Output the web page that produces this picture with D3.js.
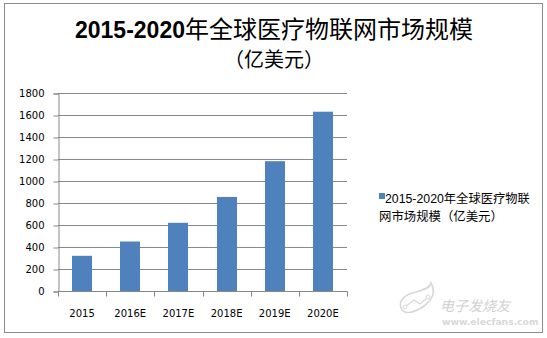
<!DOCTYPE html>
<html>
<head>
<meta charset="utf-8">
<script src="https://cdn.jsdelivr.net/npm/d3@7/dist/d3.min.js"></script>
<style>
  html, body { margin: 0; padding: 0; background: #fff; }
  svg { display: block; }
</style>
</head>
<body>
<svg id="chart" width="547" height="338"></svg>
<script>
// Global medical IoT market size, 2015-2020 (100 million USD)
const categories = ["2015", "2016E", "2017E", "2018E", "2019E", "2020E"];
const marketSize = [320, 450, 620, 855, 1180, 1630];
const yTicks = [0, 200, 400, 600, 800, 1000, 1200, 1400, 1600, 1800];
const titleYears = "2015-2020";
const titleRest = "年全球医疗物联网市场规模";
const titleUnit = "（亿美元）";
const legendYears = "2015-2020";
const legendRest = "年全球医疗物联";
const legendLine2 = "网市场规模（亿美元）";

const svg = d3.select("#chart");
const barColor = "#4F81BD";
const gridColor = "#878787";
const cjk = "'Noto Sans CJK SC', 'DejaVu Sans', sans-serif";
const latin = "'Liberation Sans', Arial, sans-serif";

// outer chart frame
svg.append("rect")
  .attr("x", 4.5).attr("y", 3.5)
  .attr("width", 538).attr("height", 329)
  .attr("fill", "#fff").attr("stroke", "#8c8c8c").attr("stroke-width", 1);

// title: bold digits, regular CJK
const title = svg.append("text")
  .attr("x", 274).attr("y", 38)
  .attr("text-anchor", "middle")
  .attr("fill", "#000");
title.append("tspan")
  .attr("font-family", latin).attr("font-weight", "bold").attr("font-size", 23)
  .text(titleYears);
title.append("tspan")
  .attr("font-family", cjk).attr("font-size", 24)
  .text(titleRest);
svg.append("text")
  .attr("x", 274).attr("y", 67)
  .attr("text-anchor", "middle")
  .attr("font-family", cjk).attr("font-size", 20)
  .attr("fill", "#000")
  .text(titleUnit);

// scales
const x = d3.scaleBand()
  .domain(categories)
  .range([58, 347])
  .paddingInner(0.585)
  .paddingOuter(0.2925);

const y = d3.scaleLinear().domain([0, 1800]).range([291, 93]);

// horizontal gridlines
svg.append("g")
  .selectAll("line")
  .data(yTicks.filter(d => d > 0))
  .join("line")
  .attr("x1", 58).attr("x2", 347)
  .attr("y1", d => Math.round(y(d)) + 0.5)
  .attr("y2", d => Math.round(y(d)) + 0.5)
  .attr("stroke", gridColor).attr("stroke-width", 1);

// bars
svg.append("g")
  .selectAll("rect")
  .data(categories.map((c, i) => ({ c, v: marketSize[i] })))
  .join("rect")
  .attr("x", d => Math.round(x(d.c)))
  .attr("y", d => y(d.v))
  .attr("width", Math.round(x.bandwidth()))
  .attr("height", d => y(0) - y(d.v))
  .attr("fill", barColor);

// y axis
const yAxis = svg.append("g")
  .attr("transform", "translate(58.5,0.5)")
  .call(d3.axisLeft(y).tickValues(yTicks).tickSize(5).tickPadding(9)
    .tickFormat(d3.format("d")));
yAxis.select(".domain").attr("stroke", gridColor);
yAxis.selectAll(".tick line").attr("stroke", gridColor);
yAxis.selectAll(".tick text")
  .attr("font-family", "'DejaVu Sans', Verdana, sans-serif")
  .attr("font-size", 10).attr("fill", "#000");

// x axis: ticks sit on category boundaries
const step = x.step();
const boundaries = d3.range(categories.length + 1).map(i => 58 + i * step);
const xg = svg.append("g");
xg.append("line")
  .attr("x1", 58).attr("x2", 347.5)
  .attr("y1", Math.round(y(0)) + 0.5).attr("y2", Math.round(y(0)) + 0.5)
  .attr("stroke", gridColor);
xg.selectAll("line.tick")
  .data(boundaries)
  .join("line")
  .attr("class", "tick")
  .attr("x1", d => Math.round(d) + 0.5).attr("x2", d => Math.round(d) + 0.5)
  .attr("y1", Math.round(y(0)) + 0.5).attr("y2", Math.round(y(0)) + 5.5)
  .attr("stroke", gridColor);
xg.selectAll("text")
  .data(categories)
  .join("text")
  .attr("x", d => x(d) + x.bandwidth() / 2)
  .attr("y", 317)
  .attr("text-anchor", "middle")
  .attr("font-family", "'DejaVu Sans', Verdana, sans-serif")
  .attr("font-size", 10)
  .attr("fill", "#000")
  .text(d => d);

// legend
const legend = svg.append("g");
legend.append("rect")
  .attr("x", 379).attr("y", 193)
  .attr("width", 6).attr("height", 6)
  .attr("fill", barColor);
const l1 = legend.append("text")
  .attr("x", 385).attr("y", 203).attr("fill", "#000");
l1.append("tspan").attr("font-family", latin).attr("font-size", 12.3).text(legendYears);
l1.append("tspan").attr("font-family", cjk).attr("font-size", 12.3).text(legendRest);
legend.append("text")
  .attr("x", 379).attr("y", 221)
  .attr("font-family", cjk).attr("font-size", 12.4)
  .attr("fill", "#000")
  .text(legendLine2);

// watermark
const wm = svg.append("g").attr("opacity", 0.45);
wm.append("path")
  .attr("d", "M431,283 C436,292 432,300 424,306 C416,312 404,316 401,308 C398,300 406,294 416,292 C424,290 430,288 431,283 Z")
  .attr("fill", "none").attr("stroke", "#aaa").attr("stroke-width", 1.6);
wm.append("path")
  .attr("d", "M406,306 L414,300 L420,304 L427,298")
  .attr("fill", "none").attr("stroke", "#aaa").attr("stroke-width", 1.2);
wm.append("circle").attr("cx", 405).attr("cy", 307).attr("r", 2)
  .attr("fill", "#fff").attr("stroke", "#aaa");
wm.append("circle").attr("cx", 428).attr("cy", 297).attr("r", 2)
  .attr("fill", "#fff").attr("stroke", "#aaa");
wm.append("text")
  .attr("x", 440).attr("y", 311)
  .attr("font-family", cjk).attr("font-size", 14).attr("font-style", "italic")
  .attr("fill", "#999").text("电子发烧友");
wm.append("text")
  .attr("x", 442).attr("y", 325)
  .attr("font-family", "'DejaVu Sans', sans-serif").attr("font-size", 9.2)
  .attr("font-weight", "bold")
  .attr("fill", "#aaa").text("www.elecfans.com");
</script>
</body>
</html>
